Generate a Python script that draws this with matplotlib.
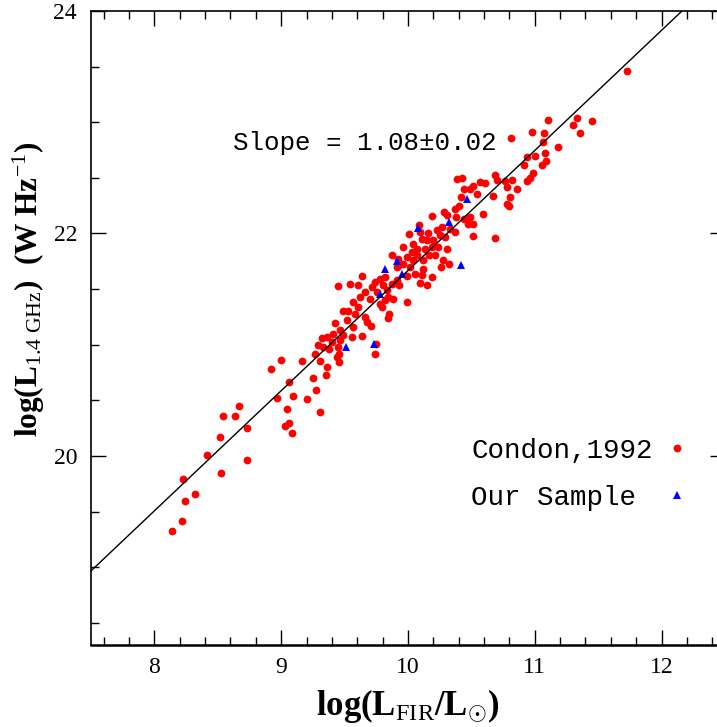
import matplotlib.pyplot as plt
import numpy as np
from matplotlib.ticker import MultipleLocator

plt.rcParams['mathtext.fontset'] = 'custom'
plt.rcParams['mathtext.rm'] = 'Liberation Serif'
plt.rcParams['mathtext.it'] = 'Liberation Serif:italic'
plt.rcParams['mathtext.bf'] = 'Liberation Serif:bold'

# Condon 1992 sample: log L_FIR, log L_1.4GHz
condon_fir = [
    11.108, 11.332, 11.455, 11.298, 11.353, 10.977, 11.069, 10.811, 11.063, 11.187,
    11.082, 11.003, 10.937, 10.916, 11.055, 11.090, 10.990, 10.963, 10.942, 10.858,
    10.819, 10.779, 10.806, 10.779, 10.800, 10.690, 10.706, 10.766, 10.674, 10.690,
    10.590, 10.516, 10.608, 10.569, 10.516, 10.548, 10.490, 10.443, 10.424, 10.385,
    10.417, 10.403, 10.372, 10.490, 10.516, 10.477, 10.438, 10.380, 10.285, 10.306,
    10.188, 10.332, 10.372, 10.272, 10.227, 10.253, 10.293, 10.306, 10.327, 10.261,
    10.274, 10.214, 10.188, 10.148, 10.135, 10.167, 10.117, 10.069, 10.038, 9.990,
    10.017, 10.056, 10.109, 10.096, 10.148, 10.188, 10.122, 10.009, 10.088, 10.043,
    10.109, 10.161, 9.959, 9.872, 9.912, 9.964, 9.990, 9.912, 9.933, 9.872,
    9.833, 9.846, 9.885, 9.819, 9.780, 9.798, 9.854, 9.846, 9.996, 9.741,
    9.780, 9.819, 9.714, 9.662, 9.701, 9.641, 9.609, 9.543, 9.446, 9.570,
    9.609, 9.491, 9.525, 9.662, 9.675, 9.709, 9.570, 9.517, 9.425, 9.464,
    9.412, 9.491, 9.557, 9.635, 9.748, 9.741, 9.365, 9.320, 9.293, 9.333,
    9.380, 9.446, 9.459, 9.438, 9.457, 9.267, 9.307, 9.359, 9.354, 9.249,
    9.275, 9.162, 8.996, 8.917, 9.065, 9.091, 9.201, 8.965,
    10.201, 10.240, 10.096, 10.069, 10.030, 9.925, 9.806, 9.754, 9.622, 9.583,
    9.464, 9.399,
    8.136, 8.221, 8.239, 8.323, 8.223, 8.526, 8.733, 8.415, 8.518, 8.733,
    8.541, 8.636, 8.670, 9.044, 9.033, 9.060, 9.086, 9.304,
    11.731,
]
condon_radio = [
    23.019, 23.034, 23.013, 22.974, 22.905, 22.908, 22.905, 22.860, 22.824, 22.779,
    22.719, 22.695, 22.683, 22.614, 22.614, 22.653, 22.545, 22.494, 22.470, 22.404,
    22.479, 22.419, 22.329, 22.263, 22.245, 22.524, 22.479, 22.473, 22.335, 21.963,
    22.179, 21.975, 22.449, 22.464, 22.425, 22.353, 22.404, 22.398, 22.494, 22.485,
    22.329, 22.245, 22.224, 22.149, 22.083, 22.083, 22.134, 22.149, 22.194, 22.164,
    22.155, 22.044, 22.014, 22.059, 22.029, 21.984, 21.969, 21.864, 21.729, 21.699,
    21.765, 21.804, 21.879, 21.939, 21.864, 21.804, 21.759, 21.804, 21.765, 21.789,
    21.699, 21.639, 21.624, 21.555, 21.534, 21.609, 21.684, 21.993, 22.074, 21.909,
    21.954, 22.005, 21.879, 21.804, 21.699, 21.729, 21.615, 21.579, 21.534, 21.549,
    21.489, 21.429, 21.408, 21.399, 21.369, 21.339, 21.279, 21.243, 21.381, 21.564,
    21.594, 21.609, 21.519, 21.474, 21.414, 21.615, 21.534, 21.549, 21.531, 21.384,
    21.339, 21.303, 21.303, 21.249, 21.204, 21.165, 21.159, 21.219, 21.195, 21.135,
    21.099, 21.084, 21.069, 21.081, 21.009, 20.913, 21.069, 21.057, 20.994, 20.979,
    20.964, 20.979, 20.919, 20.889, 20.844, 20.919, 20.853, 20.799, 20.724, 20.703,
    20.589, 20.853, 20.859, 20.781, 20.664, 20.538, 20.514, 20.520,
    21.945, 21.879, 22.014, 21.864, 21.834, 21.774, 21.534, 21.474, 21.429, 21.279,
    21.039, 21.024,
    19.326, 19.416, 19.596, 19.659, 19.791, 19.848, 19.959, 20.007, 20.169, 20.247,
    20.361, 20.361, 20.445, 20.421, 20.271, 20.295, 20.208, 20.397,
    23.460,
]

# our sample
sample_fir = [10.469, 10.327, 10.082, 10.422, 9.914, 9.817, 9.954, 9.783, 9.735, 9.512]
sample_radio = [22.308, 22.107, 22.050, 21.716, 21.750, 21.684, 21.639, 21.453, 21.005, 20.978]

# fitted relation
slope = 1.08
intercept = 10.866

fig = plt.figure(figsize=(7.17, 7.27), dpi=100)
ax = fig.add_axes([0.1269, 0.1128, 0.8842, 0.8721])

ax.plot(condon_fir, condon_radio, "o", color="red", ms=5.6, mew=0,
        linestyle="none", label="Condon,1992")
# trailing space keeps the two legend labels left aligned (monospace font)
ax.plot(sample_fir, sample_radio, "^", color="blue", ms=6.2, mew=0,
        linestyle="none", label="Our Sample ")

xfit = np.array([7.5, 12.5])
ax.plot(xfit, slope * xfit + intercept, color="black", lw=1.0, zorder=5)

ax.set_xlim(7.5, 12.5)
ax.set_ylim(18.3, 24)
ax.xaxis.set_major_locator(MultipleLocator(1))
ax.xaxis.set_minor_locator(MultipleLocator(0.2))
ax.yaxis.set_major_locator(MultipleLocator(2))
ax.yaxis.set_minor_locator(MultipleLocator(0.5))
ax.tick_params(which="both", direction="in", top=True, right=True, width=1.0)
ax.tick_params(which="major", length=11)
ax.tick_params(which="minor", length=5.5)
ax.tick_params(axis="x", which="major", pad=9)
ax.tick_params(axis="y", which="major", pad=10)
for lab in ax.get_xticklabels() + ax.get_yticklabels():
    lab.set_family("Liberation Serif")
    lab.set_fontsize(17)
for sp in ax.spines.values():
    sp.set_linewidth(1.2)
ax.spines["bottom"].set_linewidth(1.8)

ax.set_xlabel(r"log(L$_{\rm FIR}$/L$_{\odot}$)", family="Liberation Serif",
              fontsize=25, fontweight="bold", labelpad=6)
ax.set_ylabel(r"log(L$_{\rm 1.4\ GHz}$)  (W Hz$^{-1}$)", family="Liberation Serif",
              fontsize=22.5, fontweight="bold")
ax.yaxis.set_label_coords(-0.07, 0.56)

ax.text(8.618, 22.749, "Slope = 1.08\u00b10.02", family="Liberation Mono",
        fontsize=18.6, ha="left", va="baseline")

ax.legend(loc="upper left", bbox_to_anchor=(0.600, 0.327), frameon=False,
          markerfirst=False, borderpad=0, borderaxespad=0, handlelength=0.75,
          handletextpad=0.5, labelspacing=0.76,
          prop={"family": "Liberation Mono", "size": 19.8})

plt.savefig("out.png", dpi=100)
